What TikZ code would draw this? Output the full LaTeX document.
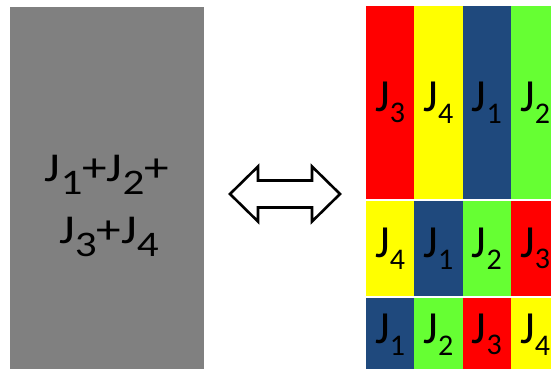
\documentclass[tikz,border=0pt]{standalone}
\usepackage{fontspec}
\setmainfont{Carlito}
\newfontfamily\leftfont[FakeStretch=1.2]{Carlito}
\definecolor{cred}{HTML}{FF0000}
\definecolor{cyel}{HTML}{FFFF00}
\definecolor{cblu}{HTML}{1F497D}
\definecolor{cgrn}{HTML}{66FF33}
\definecolor{cgray}{HTML}{808080}
\newcommand{\Jr}[1]{J\raisebox{-11.5pt}{\fontsize{30}{30}\selectfont #1}}
\newcommand{\Jl}[1]{J\raisebox{-13pt}{\fontsize{36}{36}\selectfont #1}}
\tikzset{
  cell/.style={anchor=north west, inner sep=0pt, outer sep=0pt, minimum width=48.4pt,
    font=\fontsize{46}{46}\selectfont, text=black},
  rowa/.style={cell, minimum height=193pt},
  rowb/.style={cell, minimum height=95pt},
  rowc/.style={cell, minimum height=73pt},
  ltext/.style={anchor=base, inner sep=0pt, font=\leftfont\fontsize{41}{41}\selectfont, text=black},
  dblarrow/.style={draw=black, fill=white, line width=2.6pt, line join=miter}
}
\begin{document}
\begin{tikzpicture}[x=1pt,y=-1pt]
\useasboundingbox (0,0) rectangle (551,369);
\clip (0,0) rectangle (551,369);
\fill[white] (0,0) rectangle (551,369);
% left gray block
\node[fill=cgray, anchor=north west, inner sep=0pt, minimum width=194pt, minimum height=364pt] (gray) at (10,7) {};
\node[ltext] (l1) at (107,181) {\Jl{1}+\Jl{2}+};
\node[ltext] (l2) at (109,243) {\Jl{3}+\Jl{4}};
% double arrow
\draw[dblarrow] (230,194) -- (258,166.5) -- (258,180.5) -- (312,180.5) -- (312,166.5)
  -- (340,194) -- (312,221.5) -- (312,207.5) -- (258,207.5) -- (258,221.5) -- cycle;
% right grid
\node[rowa, fill=cred] (a1) at (366,6) {\Jr{3}};
\node[rowa, fill=cyel] (a2) at (414.3,6) {\Jr{4}};
\node[rowa, fill=cblu] (a3) at (462.6,6) {\Jr{1}};
\node[rowa, fill=cgrn] (a4) at (510.9,6) {\Jr{2}};
\node[rowb, fill=cyel] (b1) at (366,201) {\Jr{4}};
\node[rowb, fill=cblu] (b2) at (414.3,201) {\Jr{1}};
\node[rowb, fill=cgrn] (b3) at (462.6,201) {\Jr{2}};
\node[rowb, fill=cred] (b4) at (510.9,201) {\Jr{3}};
\node[rowc, fill=cblu] (c1) at (366,298) {\Jr{1}};
\node[rowc, fill=cgrn] (c2) at (414.3,298) {\Jr{2}};
\node[rowc, fill=cred] (c3) at (462.6,298) {\Jr{3}};
\node[rowc, fill=cyel] (c4) at (510.9,298) {\Jr{4}};
\end{tikzpicture}
\end{document}
